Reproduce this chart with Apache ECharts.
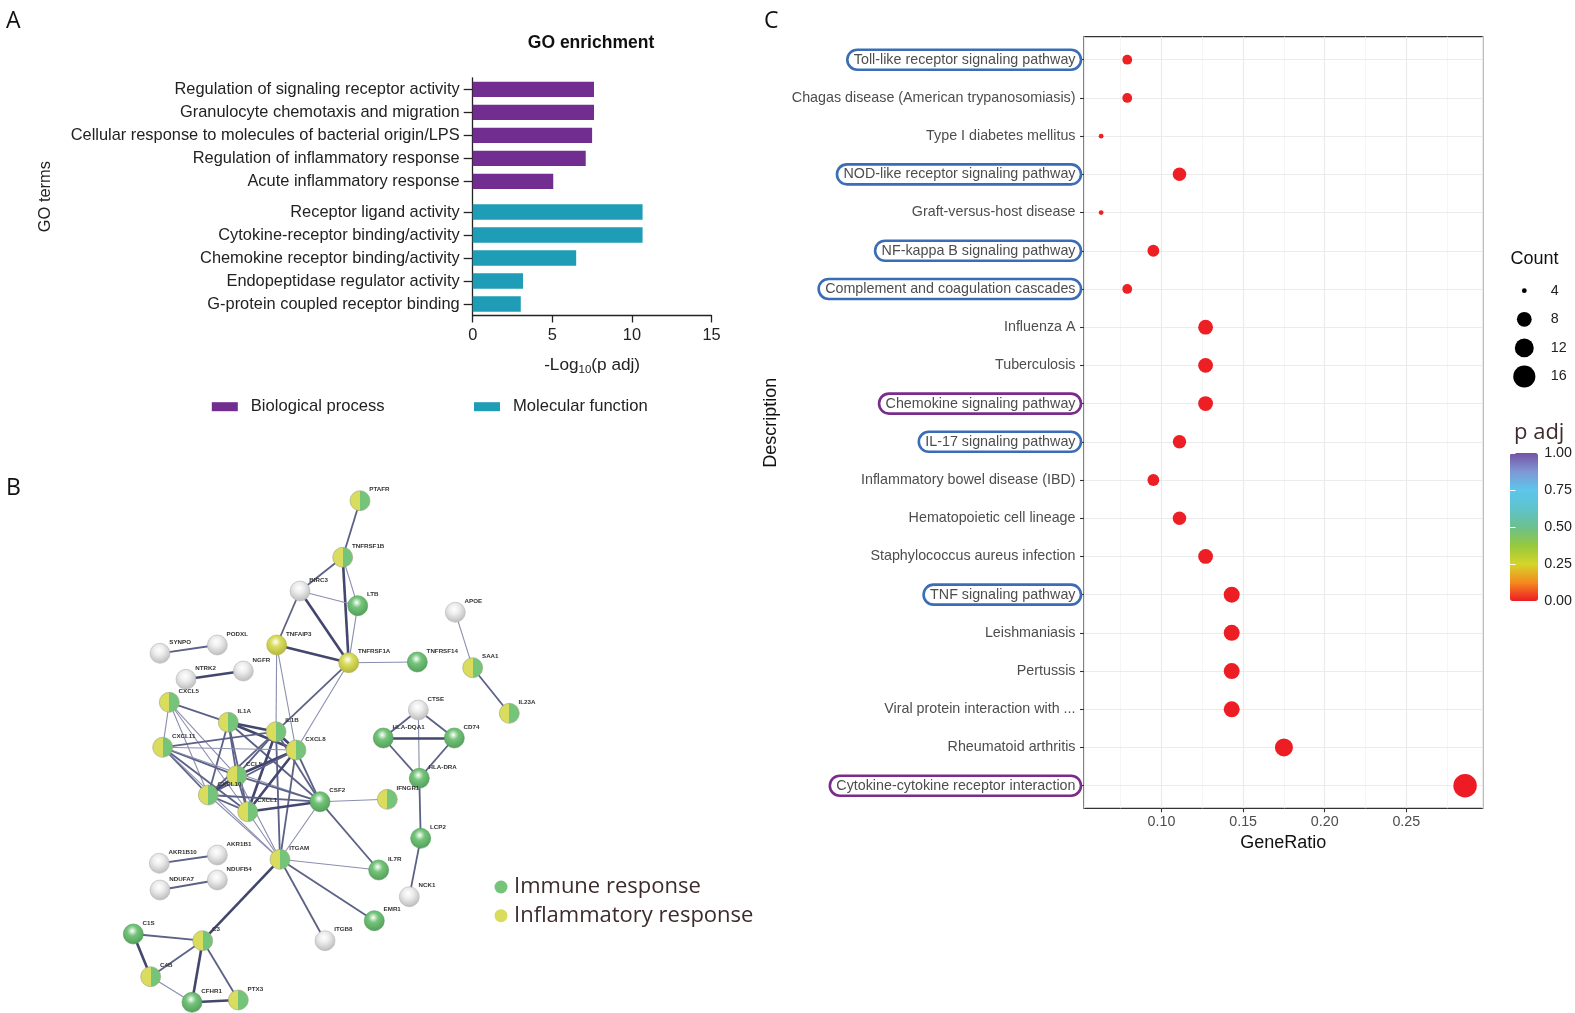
<!DOCTYPE html>
<html><head><meta charset="utf-8">
<script src="https://cdn.jsdelivr.net/npm/echarts@6/dist/echarts.min.js"></script>
<style>html,body{margin:0;padding:0;background:#fff}#c{width:1575px;height:1013px}</style>
</head><body><div id="c"></div>
<script>
// ---------- Panel A data ----------
const goTermsBP = ['Regulation of signaling receptor activity','Granulocyte chemotaxis and migration','Cellular response to molecules of bacterial origin/LPS','Regulation of inflammatory response','Acute inflammatory response'];
const goValuesBP = [7.62, 7.62, 7.50, 7.10, 5.06];
const goTermsMF = ['Receptor ligand activity','Cytokine-receptor binding/activity','Chemokine receptor binding/activity','Endopeptidase regulator activity','G-protein coupled receptor binding'];
const goValuesMF = [10.67, 10.67, 6.50, 3.16, 3.02];
const goGroups = ['Biological process','Molecular function'];

// ---------- Panel B data ----------
const netNames = ['PTAFR','TNFRSF1B','BIRC3','LTB','APOE','SYNPO','PODXL','NTRK2','NGFR','TNFAIP3','TNFRSF1A','TNFRSF14','SAA1','IL23A','CXCL5','CTSE','IL1A','IL1B','CD74','HLA-DQA1','CXCL11','CXCL8','CCL5','HLA-DRA','CXCL10','CSF2','IFNGR1','CXCL1','LCP2','AKR1B1','AKR1B10','ITGAM','IL7R','NDUFB4','NDUFA7','NCK1','EMR1','C1S','C3','ITGB8','C4B','CFHR1','PTX3'];
const netX = [360,342.7,300,357.7,455.3,160,217.3,186,243.3,276.7,348.7,417.3,472.7,509.3,169.3,418.3,228.3,276,454.3,383.3,162.7,296,236.7,419.3,208.3,320,387.3,247.7,420.7,217.3,159.3,280,378.7,217.3,160,409.3,374.3,133.3,202.7,325,150.7,192,238.3];
const netY = [500.7,557.3,591,605.7,612.3,653.3,645,679.3,671,645,662.7,662,667.7,713.3,702.3,710,722.3,731.7,738,738,747.3,750,775.7,778.3,795,801.7,799.3,811.7,838.3,855,863.3,859.3,870,880,890,896.7,920.7,934,940.7,940.7,976.7,1002.3,1000];
const netGroup = ['B','B','N','I','N','N','N','N','N','F','F','I','B','B','B','N','B','B','I','I','B','B','B','I','B','I','B','B','I','N','N','B','I','N','N','N','I','I','B','N','B','I','B'];
const netEdges = [
 ['PTAFR','TNFRSF1B',2],['TNFRSF1B','BIRC3',2],['TNFRSF1B','LTB',1],['TNFRSF1B','TNFRSF1A',3],
 ['BIRC3','LTB',1],['BIRC3','TNFAIP3',2],['BIRC3','TNFRSF1A',3],['LTB','TNFRSF1A',1],
 ['TNFAIP3','TNFRSF1A',3],['TNFAIP3','IL1B',1],['TNFAIP3','CXCL8',1],['TNFRSF1A','TNFRSF14',1],
 ['TNFRSF1A','IL1B',2],['TNFRSF1A','CXCL8',1],['APOE','SAA1',1],['SAA1','IL23A',2],
 ['SYNPO','PODXL',2],['NTRK2','NGFR',3],
 ['CXCL5','IL1A',2],['CXCL5','CXCL11',1],['CXCL5','CXCL10',1],['CXCL5','CCL5',1],['CXCL5','CXCL1',1],
 ['IL1A','IL1B',3],['IL1A','CXCL8',3],['IL1A','CCL5',2],['IL1A','CXCL10',2],['IL1A','CXCL1',2],['IL1A','CSF2',2],
 ['IL1B','CXCL8',3],['IL1B','CCL5',2],['IL1B','CXCL10',2],['IL1B','CXCL1',3],['IL1B','CSF2',2],['IL1B','ITGAM',2],['IL1B','CXCL11',2],
 ['CXCL11','CXCL8',1],['CXCL11','CXCL10',2],['CXCL11','CCL5',2],['CXCL11','CXCL1',2],['CXCL11','CSF2',1],['CXCL11','ITGAM',1],
 ['CXCL8','CCL5',3],['CXCL8','CXCL10',2],['CXCL8','CXCL1',3],['CXCL8','CSF2',2],['CXCL8','ITGAM',2],
 ['CCL5','CXCL10',3],['CCL5','CXCL1',2],['CCL5','CSF2',2],['CCL5','ITGAM',1],
 ['CXCL10','CXCL1',2],['CXCL10','CSF2',2],['CXCL10','ITGAM',1],['CXCL1','CSF2',3],['CXCL1','ITGAM',1],
 ['CSF2','IFNGR1',1],['CSF2','IL7R',2],['CSF2','ITGAM',1],
 ['CTSE','HLA-DQA1',2],['CTSE','CD74',2],['CTSE','HLA-DRA',1],['HLA-DQA1','CD74',3],['HLA-DQA1','HLA-DRA',2],['CD74','HLA-DRA',2],
 ['HLA-DRA','LCP2',2],['LCP2','NCK1',2],
 ['ITGAM','IL7R',1],['ITGAM','EMR1',2],['ITGAM','ITGB8',2],['ITGAM','C3',3],
 ['AKR1B10','AKR1B1',2],['NDUFA7','NDUFB4',2],
 ['C1S','C3',2],['C1S','C4B',3],['C4B','C3',2],['C4B','CFHR1',1],['C3','CFHR1',3],['C3','PTX3',2],['CFHR1','PTX3',3]
];
const netLegend = ['Immune response','Inflammatory response'];

// ---------- Panel C data ----------
const keggTerms = ['Toll-like receptor signaling pathway','Chagas disease (American trypanosomiasis)','Type I diabetes mellitus','NOD-like receptor signaling pathway','Graft-versus-host disease','NF-kappa B signaling pathway','Complement and coagulation cascades','Influenza A','Tuberculosis','Chemokine signaling pathway','IL-17 signaling pathway','Inflammatory bowel disease (IBD)','Hematopoietic cell lineage','Staphylococcus aureus infection','TNF signaling pathway','Leishmaniasis','Pertussis','Viral protein interaction with ...','Rheumatoid arthritis','Cytokine-cytokine receptor interaction'];
const keggGeneRatio = [0.079,0.079,0.063,0.111,0.063,0.095,0.079,0.127,0.127,0.127,0.111,0.095,0.111,0.127,0.143,0.143,0.143,0.143,0.175,0.286];
const keggCount = [5,5,4,7,4,6,5,8,8,8,7,6,7,8,9,9,9,9,11,18];
const keggPadj = [0.004,0.004,0.006,0.002,0.006,0.003,0.004,0.002,0.002,0.002,0.002,0.003,0.002,0.002,0.001,0.001,0.001,0.001,0.001,0.0002];
const countBreaks = [4,8,12,16];
const padjRange = [0, 1];

// ---------- styling ----------
const SANS = 'Liberation Sans';
const OPEN = 'Open Sans';
const C_BP = '#722D90', C_MF = '#1F9CB6';
const GREEN = '#74C47A', YELLOW = '#D9DC5C', GREY = '#EDEDED';
const boxStyle = {
  'Toll-like receptor signaling pathway':'blue','NOD-like receptor signaling pathway':'blue',
  'NF-kappa B signaling pathway':'blue','Complement and coagulation cascades':'blue',
  'IL-17 signaling pathway':'blue','TNF signaling pathway':'blue',
  'Chemokine signaling pathway':'purple','Cytokine-cytokine receptor interaction':'purple'
};

// Panel A: slot layout (3 slots per bar, 1 extra slot between groups)
const nSlots = 3 * (goTermsBP.length + goTermsMF.length) + 1;
const slotNames = [];
for (let s = 0; s < nSlots; s++) slotNames.push('__' + s);
const slotBP = goTermsBP.map((t, i) => 1 + 3 * i);
const slotMF = goTermsMF.map((t, i) => 2 + 3 * (goTermsBP.length + i));
slotBP.forEach((s, i) => slotNames[s] = goTermsBP[i]);
slotMF.forEach((s, i) => slotNames[s] = goTermsMF[i]);
const dataBP = slotNames.map(() => null), dataMF = slotNames.map(() => null);
slotBP.forEach((s, i) => dataBP[s] = goValuesBP[i]);
slotMF.forEach((s, i) => dataMF[s] = goValuesMF[i]);

// size scale for Count (area scale, ggplot-like)
const cMin = Math.min(...keggCount), cMax = Math.max(...keggCount);
const sizeOf = c => 4.8 + (23.5 - 4.8) * Math.sqrt(Math.max(0, (c - cMin)) / (cMax - cMin));

// Network
function shade(g) {
  if (g === 'B') return {color: {type:'linear', x:0, y:0, x2:1, y2:0, colorStops:[
    {offset:0, color:YELLOW},{offset:0.5, color:YELLOW},{offset:0.5, color:GREEN},{offset:1, color:GREEN}]},
    borderColor:'#9aa27c', borderWidth:0.6};
  const base = g === 'I' ? GREEN : g === 'F' ? YELLOW : GREY;
  const rim = g === 'I' ? '#4f9a56' : g === 'F' ? '#b0b23a' : '#b5b5b5';
  return {color: {type:'radial', x:0.45, y:0.35, r:0.7, colorStops:[
    {offset:0, color:'#ffffff'},{offset:0.35, color:base},{offset:1, color:rim}]},
    borderColor: rim, borderWidth:0.6};
}
const netNodes = netNames.map((n, i) => ({
  name: n, x: netX[i], y: netY[i],
  category: netGroup[i] === 'I' ? 0 : (netGroup[i] === 'N' ? 2 : 1),
  itemStyle: shade(netGroup[i])
}));
const edgeW = {1: [1.1, '#8a8eae'], 2: [1.8, '#5c6186'], 3: [2.6, '#43476e']};
const netLinks = netEdges.map(e => ({source: e[0], target: e[1],
  lineStyle: {width: edgeW[e[2]][0], color: edgeW[e[2]][1], opacity: 1}}));
const bx0 = Math.min(...netX), bx1 = Math.max(...netX), by0 = Math.min(...netY), by1 = Math.max(...netY);

const chart = echarts.init(document.getElementById('c'), null, {renderer: 'canvas'});
const option = {
  animation: false,
  backgroundColor: '#fff',
  textStyle: {fontFamily: SANS},
  title: [
    {text: 'A', left: 1, top: 2, textStyle: {fontFamily: OPEN, fontSize: 23, fontWeight: 'normal', color: '#111', lineHeight: 28}},
    {text: 'B', left: 1, top: 469, textStyle: {fontFamily: OPEN, fontSize: 23, fontWeight: 'normal', color: '#111', lineHeight: 28}},
    {text: 'C', left: 759, top: 2, textStyle: {fontFamily: OPEN, fontSize: 23, fontWeight: 'normal', color: '#111', lineHeight: 28}},
    {text: 'GO enrichment', left: 591, textAlign: 'center', top: 32, padding: 0, textStyle: {fontFamily: SANS, fontSize: 17.5, fontWeight: 'bold', color: '#111', lineHeight: 22}},
    {text: 'Count', left: 1510.5, top: 249, padding: 0, textStyle: {fontFamily: SANS, fontSize: 18, fontWeight: 'normal', color: '#111', lineHeight: 20}},
    {text: 'p adj', left: 1514, top: 420, padding: 0, textStyle: {fontFamily: OPEN, fontSize: 22, fontWeight: 'normal', color: '#3d2b2d', lineHeight: 26}}
  ],
  legend: [
    {data: [goGroups[0]], left: 211.8, top: 397.7, padding: 0, itemWidth: 26, itemHeight: 9, icon: 'rect', selectedMode: false,
     textStyle: {fontFamily: SANS, fontSize: 16.6, color: '#222', lineHeight: 18, padding: [0,0,0,8]}},
    {data: [goGroups[1]], left: 474, top: 397.7, padding: 0, itemWidth: 26, itemHeight: 9, icon: 'rect', selectedMode: false,
     textStyle: {fontFamily: SANS, fontSize: 16.6, color: '#222', lineHeight: 18, padding: [0,0,0,8]}},
    {data: netLegend, orient: 'vertical', left: 494.5, top: 875, padding: 0, itemWidth: 13, itemHeight: 13, itemGap: 4.7, icon: 'circle', selectedMode: false,
     textStyle: {fontFamily: OPEN, fontSize: 22, color: '#3d2b2d', lineHeight: 24, padding: [0,0,0,1.5]}}
  ],
  visualMap: [{
    type: 'continuous', min: padjRange[0], max: padjRange[1], seriesIndex: 4, dimension: 3,
    left: 1510, top: 453, itemWidth: 28, itemHeight: 148, padding: 0, calculable: false, show: true,
    inRange: {color: ['#ED1C24','#F58A1F','#D4D52A','#96C93D','#6CC08F','#5EC3CC','#5DC6EC','#7F97D4','#7452A4']}
  }],
  grid: [
    {left: 472.7, top: 77.8, width: 238.8, height: 237.7},
    {left: 1084, top: 36.7, width: 398.7, height: 771.6, show: true, borderColor: '#333', borderWidth: 1.3, backgroundColor: 'transparent'},
    {left: 1084, top: 40.6, width: 398.7, height: 764.2},
    {left: 1514.3, top: 276.4, width: 20, height: 114.4},
    {left: 1510, top: 453, width: 28, height: 148}
  ],
  xAxis: [
    {gridIndex: 0, type: 'value', min: 0, max: 15, interval: 5,
     axisLine: {show: true, lineStyle: {color: '#222', width: 1.3}},
     axisTick: {show: true, length: 7, lineStyle: {color: '#222', width: 1.3}},
     splitLine: {show: false},
     axisLabel: {fontSize: 16.4, color: '#222', margin: 12},
     name: '-Log{sub|10}(p adj)', nameLocation: 'middle', nameGap: 40,
     nameTextStyle: {fontSize: 17.2, color: '#222', lineHeight: 20, rich: {sub: {fontSize: 11.5, lineHeight: 12, verticalAlign: 'bottom', color: '#222'}}}},
    {gridIndex: 1, type: 'value', min: 0.0525, max: 0.2968,
     axisLine: {show: false},
     axisTick: {show: true, length: 4, lineStyle: {color: '#333', width: 1.1}},
     axisLabel: {fontSize: 14.3, color: '#4D4D4D', margin: 7, showMinLabel: false, showMaxLabel: false, formatter: v => v.toFixed(2)},
     splitLine: {show: true, lineStyle: {color: '#EBEBEB', width: 1.2}},
     minorTick: {show: false, splitNumber: 2},
     minorSplitLine: {show: true, lineStyle: {color: '#F2F2F2', width: 0.8}},
     name: 'GeneRatio', nameLocation: 'middle', nameGap: 25, nameTextStyle: {fontSize: 18, color: '#111'}},
    {gridIndex: 2, type: 'value', min: 0.0525, max: 0.2968, show: false},
    {gridIndex: 3, type: 'value', min: -1, max: 1, show: false},
    {gridIndex: 4, type: 'value', min: 0, max: 1, show: false}
  ],
  yAxis: [
    {gridIndex: 0, type: 'category', data: slotNames, inverse: true,
     axisLine: {show: true, lineStyle: {color: '#222', width: 1.3}},
     axisTick: {show: true, length: 9, alignWithLabel: true, interval: (i, v) => !String(v).startsWith('__'), lineStyle: {color: '#222', width: 1.3}},
     axisLabel: {interval: 0, fontSize: 16.4, color: '#222', margin: 13, formatter: v => v.startsWith('__') ? '' : v},
     name: 'GO terms', nameLocation: 'middle', nameRotate: 90, nameGap: 419, nameTextStyle: {fontSize: 16.4, color: '#222'}},
    {gridIndex: 1, type: 'value', show: false},
    {gridIndex: 2, type: 'category', data: keggTerms, inverse: true,
     axisLine: {show: false},
     axisTick: {show: true, length: 4, alignWithLabel: true, lineStyle: {color: '#333', width: 1.1}},
     splitLine: {show: false},
     axisLabel: {interval: 0, margin: 3, fontSize: 14.3, color: '#4D4D4D',
       formatter: v => '{' + (boxStyle[v] || 'plain') + '|' + v + '}',
       rich: {
         plain: {fontSize: 14.3, color: '#4D4D4D', padding: [3, 5.5, 3, 6.5], borderWidth: 2.6, borderColor: 'transparent'},
         blue: {fontSize: 14.3, color: '#4D4D4D', padding: [3, 5.5, 3, 6.5], borderWidth: 2.6, borderColor: '#3A6DB5', borderRadius: 12},
         purple: {fontSize: 14.3, color: '#4D4D4D', padding: [3, 5.5, 3, 6.5], borderWidth: 2.6, borderColor: '#7A2C8C', borderRadius: 12}
       }},
     name: 'Description', nameLocation: 'middle', nameRotate: 90, nameGap: 299, nameTextStyle: {fontSize: 18, color: '#111'}},
    {gridIndex: 3, type: 'category', data: countBreaks.map(String), inverse: true, position: 'right',
     axisLine: {show: false}, axisTick: {show: false},
     axisLabel: {fontSize: 14.3, color: '#222', margin: 16.5}},
    {gridIndex: 4, type: 'value', min: 0, max: 1, interval: 0.25, position: 'right', z: 10,
     axisLine: {show: false}, splitLine: {show: false},
     axisTick: {show: true, inside: true, length: 5.5, lineStyle: {color: '#fff', width: 1}},
     axisLabel: {fontSize: 14.3, color: '#222', margin: 13.5, formatter: v => v.toFixed(2)}},
    {gridIndex: 4, type: 'value', min: 0, max: 1, interval: 0.25, position: 'left', z: 10,
     axisLine: {show: false}, splitLine: {show: false},
     axisTick: {show: true, inside: true, length: 5.5, lineStyle: {color: '#fff', width: 1}},
     axisLabel: {show: false}}
  ],
  series: [
    {name: goGroups[0], type: 'bar', xAxisIndex: 0, yAxisIndex: 0, data: dataBP, barWidth: 15.3, barGap: '-100%',
     itemStyle: {color: C_BP}},
    {name: goGroups[1], type: 'bar', xAxisIndex: 0, yAxisIndex: 0, data: dataMF, barWidth: 15.3, barGap: '-100%',
     itemStyle: {color: C_MF}},
    {type: 'graph', layout: 'none', roam: false, left: bx0, top: by0, width: bx1 - bx0, height: by1 - by0,
     symbol: 'circle', symbolSize: 20,
     categories: [{name: netLegend[0], itemStyle: {color: GREEN}}, {name: netLegend[1], itemStyle: {color: YELLOW}}, {name: 'other', itemStyle: {color: GREY}}],
     data: netNodes, links: netLinks,
     label: {show: true, position: 'right', distance: 0, offset: [-1, -11], fontSize: 6.2, fontWeight: 'bold', color: '#333', fontFamily: SANS},
     emphasis: {disabled: true}, z: 2},
    {type: 'scatter', xAxisIndex: 3, yAxisIndex: 3, data: [], silent: true},
    {name: 'KEGG', type: 'scatter', xAxisIndex: 2, yAxisIndex: 2, z: 5,
     data: keggTerms.map((t, i) => [keggGeneRatio[i], t, keggCount[i], keggPadj[i]]),
     symbolSize: d => sizeOf(d[2]),
     itemStyle: {opacity: 1},
     markLine: {silent: true, z: 1, symbol: ['none', 'none'], label: {show: false},
       lineStyle: {color: '#EBEBEB', width: 1.2, type: 'solid'}, emphasis: {disabled: true},
       data: keggTerms.map((t, i) => ({yAxis: i}))}},
    {name: 'Count', type: 'scatter', xAxisIndex: 3, yAxisIndex: 3,
     data: countBreaks.map(c => [0, String(c), c]),
     symbolSize: d => sizeOf(d[2]), itemStyle: {color: '#000', opacity: 1}, silent: true}
  ]
};
chart.setOption(option);
</script></body></html>
